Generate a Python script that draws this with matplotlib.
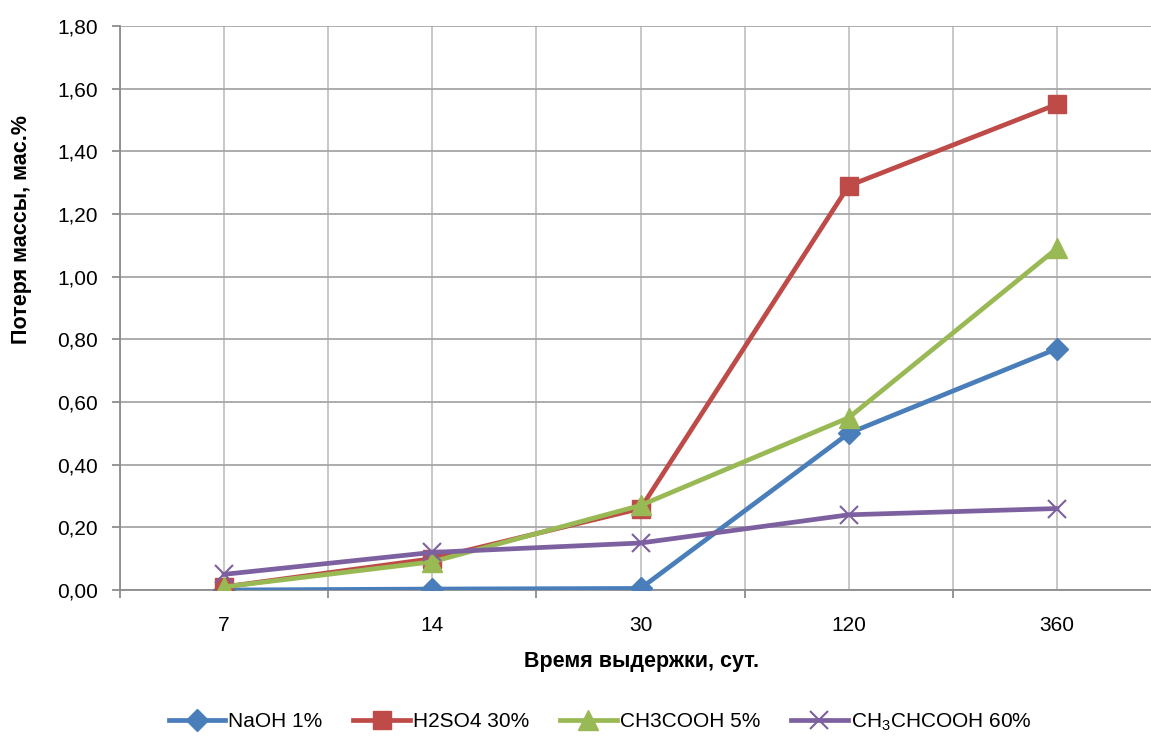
import matplotlib
matplotlib.use("Agg")
import matplotlib.pyplot as plt
from matplotlib import font_manager as fm
from matplotlib.ticker import FixedLocator, FuncFormatter

names = {f.name for f in fm.fontManager.ttflist}
FONT = "Liberation Sans Narrow" if "Liberation Sans Narrow" in names else "Liberation Sans"
plt.rcParams['font.family'] = [FONT, 'DejaVu Sans']
plt.rcParams['mathtext.fontset'] = 'custom'
plt.rcParams['mathtext.rm'] = FONT
plt.rcParams['mathtext.it'] = FONT
plt.rcParams['mathtext.default'] = 'rm'

categories = ["7", "14", "30", "120", "360"]
naoh = [0.00, 0.003, 0.005, 0.50, 0.77]
h2so4 = [0.01, 0.10, 0.26, 1.29, 1.55]
ch3cooh = [0.01, 0.09, 0.27, 0.55, 1.09]
ch3chcooh = [0.05, 0.12, 0.15, 0.24, 0.26]
series_names = ["NaOH 1%", "H2SO4 30%", "CH3COOH 5%", "CH$_3$CHCOOH 60%"]
y_ticks = [0.0, 0.2, 0.4, 0.6, 0.8, 1.0, 1.2, 1.4, 1.6, 1.8]

W, H = 1151, 737
fig = plt.figure(figsize=(W / 100, H / 100), dpi=100)
ax = fig.add_axes([120 / W, (H - 590) / H, 1041 / W, 564 / H])

x = list(range(len(categories)))
styles = [
    dict(color="#4A7EBB", marker="D", markersize=11),
    dict(color="#BE4B48", marker="s", markersize=13),
    dict(color="#98B954", marker="^", markersize=14),
    dict(color="#7D60A0", marker="x", markersize=13, markeredgewidth=1.5),
]
for data, name, st in zip([naoh, h2so4, ch3cooh, ch3chcooh], series_names, styles):
    ax.plot(x, data, linewidth=3.4, label=name, zorder=3, **st)

ax.set_xlim(-0.5, len(categories) - 0.5)
ax.set_ylim(0, 1.8)
ax.yaxis.set_major_locator(FixedLocator(y_ticks))
ax.yaxis.set_major_formatter(FuncFormatter(lambda v, p: f"{v:.2f}".replace(".", ",")))
ax.set_xticks(x)
ax.set_xticklabels(categories)
ax.set_xticks([i - 0.5 for i in range(len(categories) + 1)], minor=True)

ax.grid(True, which="major", axis="y", color="#A6A6A6", linewidth=1.3, zorder=0)
ax.grid(True, which="both", axis="x", color="#C4C4C4", linewidth=1.3, zorder=0)
ax.tick_params(axis="x", which="major", length=0, pad=19, labelsize=15)
ax.tick_params(axis="x", which="minor", length=6, width=1.3, color="#8C8C8C", direction="out")
ax.tick_params(axis="y", length=6, width=1.3, color="#8C8C8C", pad=10, labelsize=15)

for s in ["top", "right"]:
    ax.spines[s].set_visible(False)
for s in ["left", "bottom"]:
    ax.spines[s].set_color("#8C8C8C")
    ax.spines[s].set_linewidth(1.3)

fig.text(642 / W, 1 - 662 / H, "Время выдержки, сут.", ha="center", va="center",
         fontsize=15.5, fontweight="bold")
fig.text(22 / W, 1 - 230 / H, "Потеря массы, мас.%", ha="center", va="center",
         fontsize=15.5, fontweight="bold", rotation=90)

fig.legend(loc="center", bbox_to_anchor=(600 / W, 1 - 722 / H), ncol=4, frameon=False,
           fontsize=15, handlelength=2.7, columnspacing=1.5, handletextpad=0.15)

fig.savefig("out.png", dpi=100)
